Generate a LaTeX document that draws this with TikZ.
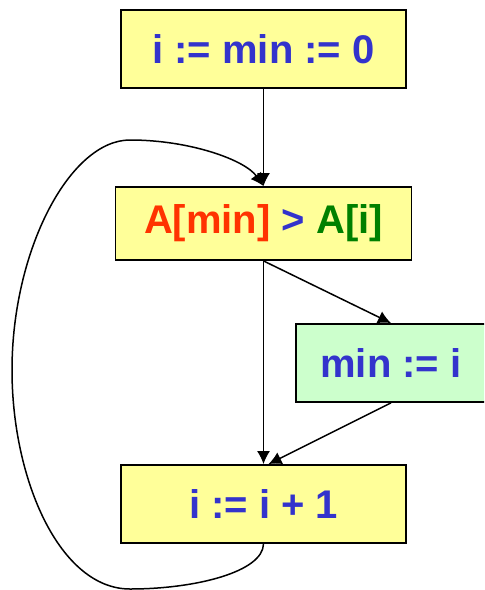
\documentclass[tikz,border=0pt]{standalone}
\usepackage{fontspec}
\setmainfont{Liberation Sans}
\usepackage{tikz}
\usetikzlibrary{arrows.meta,positioning}
\definecolor{codeblue}{HTML}{3333CC}
\definecolor{minred}{HTML}{FF3300}
\definecolor{igreen}{HTML}{008000}
\definecolor{boxyellow}{HTML}{FFFF99}
\definecolor{boxgreen}{HTML}{CCFFCC}
\tikzset{
  block/.style={draw=black,fill=boxyellow,line width=0.9pt,inner sep=0pt,
    minimum height=39pt,minimum width=142.5pt,align=center,
    font=\fontsize{20}{24}\selectfont\bfseries,text=codeblue},
  assign/.style={block,fill=boxgreen,minimum width=95pt},
  arrow/.style={-{Latex[length=6.5pt,width=6.5pt]},draw=black,line width=0.75pt}
}
\begin{document}
\begin{tikzpicture}[x=0.5pt,y=-0.5pt]
  \clip (0,0) rectangle (484,590);
  \useasboundingbox (0,0) rectangle (484,590);
  \node[block] (init) at (263.5,49) {i := min := 0};
  \node[block,minimum width=148pt,minimum height=36.5pt] (test) at (263.5,223.5)
    {\textcolor{minred}{A[min]} > \textcolor{igreen}{A[i]}};
  \node[assign] (upd) at (391,363) {min := i};
  \node[block] (incr) at (263.5,504) {i := i + 1};
  \draw[arrow] (init) -- (test);
  \draw[arrow] (test.south) -- (incr.north);
  \draw[arrow] (test.south) -- (upd.north);
  \draw[arrow] (upd.south) -- ([xshift=2.5pt]incr.north);
  % back edge of the loop
  \draw[arrow] (incr.south) .. controls (263,572) and (195,589) .. (130,589)
    .. controls (60,589) and (12,480) .. (12,370)
    .. controls (12,250) and (70,140) .. (130,140)
    .. controls (190,140) and (245,160) .. (test.north);
\end{tikzpicture}
\end{document}
